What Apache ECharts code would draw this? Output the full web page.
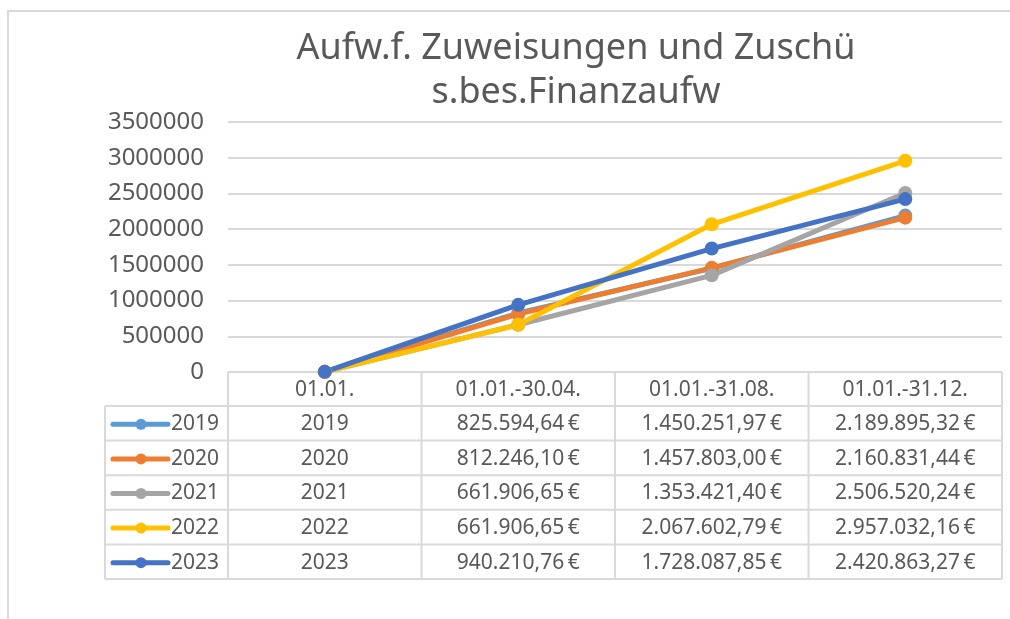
<!DOCTYPE html>
<html>
<head>
<meta charset="utf-8">
<script src="https://cdn.jsdelivr.net/npm/echarts@6/dist/echarts.min.js"></script>
<style>
  html, body { margin: 0; padding: 0; background: #fff; }
  #chart { width: 1010px; height: 619px; }
</style>
</head>
<body>
<div id="chart"></div>
<script>
// data
var categories = ['01.01.', '01.01.-30.04.', '01.01.-31.08.', '01.01.-31.12.'];
var years = ['2019', '2020', '2021', '2022', '2023'];
var v2019 = [2019, 825594.64, 1450251.97, 2189895.32];
var v2020 = [2020, 812246.10, 1457803.00, 2160831.44];
var v2021 = [2021, 661906.65, 1353421.40, 2506520.24];
var v2022 = [2022, 661906.65, 2067602.79, 2957032.16];
var v2023 = [2023, 940210.76, 1728087.85, 2420863.27];
var colors = ['#5B9BD5', '#ED7D31', '#A5A5A5', '#FFC000', '#4472C4'];
var yTicks = { min: 0, max: 3500000, interval: 500000 };

var allValues = [v2019, v2020, v2021, v2022, v2023];

var font = '"Noto Sans", sans-serif';
var textColor = '#595959';
var lineColor = '#d9d9d9';

// plot / table layout
var gl = 228, gr = 1002, gt = 122, gb = 372;
var tableLeft = 105, headH = 34, rowH = 34.6;
var colW = (gr - gl) / categories.length;

function fmtEuro(v) {
    var parts = v.toFixed(2).split('.');
    var intPart = parts[0].replace(/\B(?=(\d{3})+(?!\d))/g, '.');
    return intPart + ',' + parts[1] + '\u2009€';
}
function cellText(v, j) {
    // first column holds the plain year number
    return j === 0 ? String(v) : fmtEuro(v);
}

var graphics = [];
// outer frame
graphics.push({ type: 'rect', shape: { x: 8, y: 11, width: 1100, height: 700 },
    style: { fill: 'none', stroke: lineColor, lineWidth: 2 }, silent: true });

var tableBottom = gb + headH + rowH * years.length;
function hline(x1, x2, y) {
    graphics.push({ type: 'line', shape: { x1: x1, y1: y, x2: x2, y2: y },
        style: { stroke: lineColor, lineWidth: 2 }, silent: true });
}
function vline(x, y1, y2) {
    graphics.push({ type: 'line', shape: { x1: x, y1: y1, x2: x, y2: y2 },
        style: { stroke: lineColor, lineWidth: 2 }, silent: true });
}
hline(gl, gr, gb);
hline(tableLeft, gr, gb + headH);
for (var r = 1; r <= years.length; r++) hline(tableLeft, gr, gb + headH + rowH * r);
vline(tableLeft, gb + headH, tableBottom);
for (var c = 0; c <= categories.length; c++) vline(gl + colW * c, gb, tableBottom);

// header
categories.forEach(function (cat, j) {
    graphics.push({ type: 'text', x: gl + colW * (j + 0.5), y: gb + headH / 2 + 1, silent: true,
        style: { text: cat, fill: textColor, font: '21px ' + font, textAlign: 'center', textVerticalAlign: 'middle' } });
});
// rows
years.forEach(function (yr, i) {
    var cy = gb + headH + rowH * (i + 0.5) + 1;
    graphics.push({ type: 'line', shape: { x1: 113, y1: cy, x2: 168, y2: cy },
        style: { stroke: colors[i], lineWidth: 5, lineCap: 'round' }, silent: true });
    graphics.push({ type: 'circle', shape: { cx: 141, cy: cy, r: 5.5 },
        style: { fill: colors[i] }, silent: true });
    graphics.push({ type: 'text', x: 171, y: cy, silent: true,
        style: { text: yr, fill: textColor, font: '21px ' + font, textAlign: 'left', textVerticalAlign: 'middle' } });
    allValues[i].forEach(function (v, j) {
        graphics.push({ type: 'text', x: gl + colW * (j + 0.5), y: cy, silent: true,
            style: { text: cellText(v, j), fill: textColor, font: '21px ' + font, textAlign: 'center', textVerticalAlign: 'middle' } });
    });
});

var chart = echarts.init(document.getElementById('chart'), null, { renderer: 'canvas' });
chart.setOption({
    animation: false,
    title: {
        text: 'Aufw.f. Zuweisungen und Zuschü\ns.bes.Finanzaufw',
        left: 571,
        top: 22,
        textAlign: 'center',
        textStyle: { fontFamily: font, fontSize: 36, fontWeight: 'normal', color: textColor, lineHeight: 44 }
    },
    grid: { left: gl, right: 1010 - gr, top: gt, bottom: 619 - gb, containLabel: false },
    xAxis: {
        type: 'category',
        data: categories,
        boundaryGap: true,
        axisLine: { show: false },
        axisTick: { show: false },
        axisLabel: { show: false }
    },
    yAxis: {
        type: 'value',
        min: yTicks.min,
        max: yTicks.max,
        interval: yTicks.interval,
        axisLine: { show: false },
        axisTick: { show: false },
        axisLabel: { color: textColor, fontFamily: font, fontSize: 24, margin: 24,
            formatter: function (v) { return String(v); } },
        splitLine: { lineStyle: { color: lineColor, width: 2 } }
    },
    series: years.map(function (yr, i) {
        return {
            name: yr,
            type: 'line',
            data: allValues[i],
            symbol: 'circle',
            symbolSize: 14,
            lineStyle: { width: 5, color: colors[i] },
            itemStyle: { color: colors[i] },
            emphasis: { disabled: true }
        };
    }),
    graphic: graphics
});
</script>
</body>
</html>
